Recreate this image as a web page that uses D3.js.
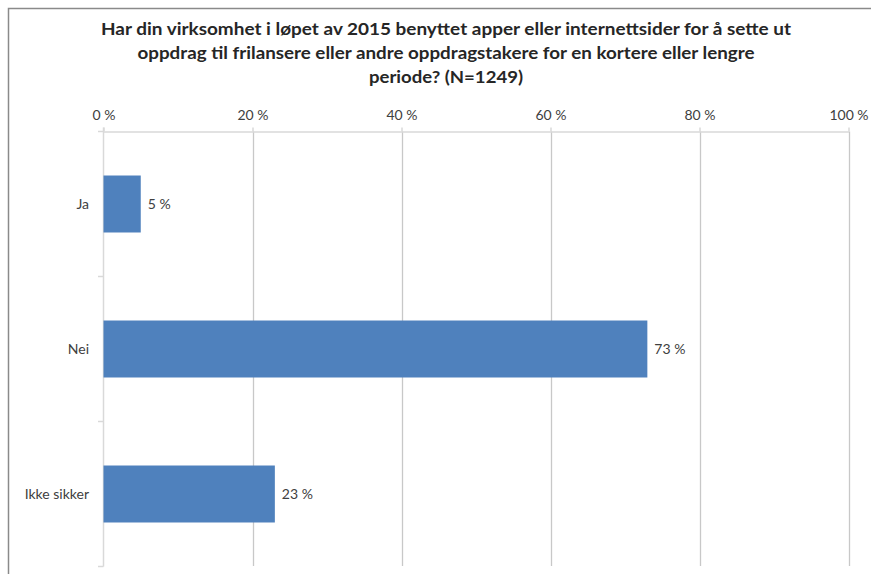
<!DOCTYPE html>
<html><head><meta charset="utf-8">
<script src="https://cdn.jsdelivr.net/npm/d3@7"></script>
<style>body{margin:0;background:#fff}svg{display:block}</style>
</head><body>
<script>
const titleLines = [
  "Har din virksomhet i løpet av 2015 benyttet apper eller internettsider for å sette ut",
  "oppdrag til frilansere eller andre oppdragstakere for en kortere eller lengre",
  "periode? (N=1249)"
];
const titleWidths = [690, 617, 154];
const categories = ["Ja", "Nei", "Ikke sikker"];
const values = [5, 73, 23];
const tickValues = [0, 20, 40, 60, 80, 100];

const W = 871, H = 574;
const svg = d3.select("body").append("svg").attr("width", W).attr("height", H);
const font = "Lato, 'Open Sans', sans-serif";
const txt = "#404040";

// frame
svg.append("path").attr("d", `M8.5,${H} V8.5 H${W}`).attr("fill","none").attr("stroke","#8a8a8a").attr("stroke-width",1.5);

// title
svg.append("g").selectAll("text").data(titleLines).join("text")
  .attr("x", 446).attr("y", (d,i)=>35+i*24)
  .attr("text-anchor","middle").attr("font-family",font).attr("font-weight","bold")
  .attr("font-size",17).attr("fill","#262626")
  .attr("textLength",(d,i)=>titleWidths[i]).attr("lengthAdjust","spacingAndGlyphs")
  .text(d=>d);

const x = d3.scaleLinear().domain([0,100]).range([103.5, 848.5]);
const y = d3.scaleBand().domain(categories).range([131.5, 566.5]).paddingInner(0.607).paddingOuter(0.3035);

// gridlines
svg.append("g").selectAll("line").data(tickValues.slice(1)).join("line")
  .attr("x1",d=>Math.round(x(d))+0.5).attr("x2",d=>Math.round(x(d))+0.5)
  .attr("y1",131.5).attr("y2",566).attr("stroke","#c8c8c8").attr("stroke-width",1.3);

// top axis
const xAxis = d3.axisTop(x).tickValues(tickValues).tickFormat(d=>d+" %").tickSize(4).tickSizeOuter(0);
const gx = svg.append("g").attr("transform","translate(0,131.5)").call(xAxis);
gx.select(".domain").attr("stroke","#d9d9d9").attr("stroke-width",1.5);
gx.selectAll(".tick line").attr("stroke","#d9d9d9").attr("stroke-width",1.5);
gx.selectAll(".tick text").attr("font-family",font).attr("font-size",14).attr("fill",txt).attr("dy","-5");

// left axis line + category boundary ticks
svg.append("line").attr("x1",103.5).attr("x2",103.5).attr("y1",127.5).attr("y2",566.5)
  .attr("stroke","#d9d9d9").attr("stroke-width",1.5);
const step = y.step();
const bounds = d3.range(categories.length+1).map(i=>131.5+i*step);
svg.append("g").selectAll("line").data(bounds).join("line")
  .attr("x1",98).attr("x2",103.5).attr("y1",d=>d).attr("y2",d=>d)
  .attr("stroke","#d9d9d9").attr("stroke-width",1.5);

// category labels
svg.append("g").selectAll("text").data(categories).join("text")
  .attr("x",89).attr("y",d=>y(d)+y.bandwidth()/2).attr("dy","0.35em")
  .attr("text-anchor","end").attr("font-family",font).attr("font-size",14).attr("fill",txt)
  .text(d=>d);

// bars
svg.append("g").selectAll("rect").data(categories).join("rect")
  .attr("x",x(0)).attr("y",(d)=>y(d)).attr("width",(d,i)=>x(values[i])-x(0))
  .attr("height",y.bandwidth()).attr("fill","#4f81bd");

// value labels
svg.append("g").selectAll("text").data(categories).join("text")
  .attr("x",(d,i)=>x(values[i])+7).attr("y",d=>y(d)+y.bandwidth()/2).attr("dy","0.35em")
  .attr("font-family",font).attr("font-size",14).attr("fill",txt)
  .text((d,i)=>values[i]+" %");
</script>
</body></html>
